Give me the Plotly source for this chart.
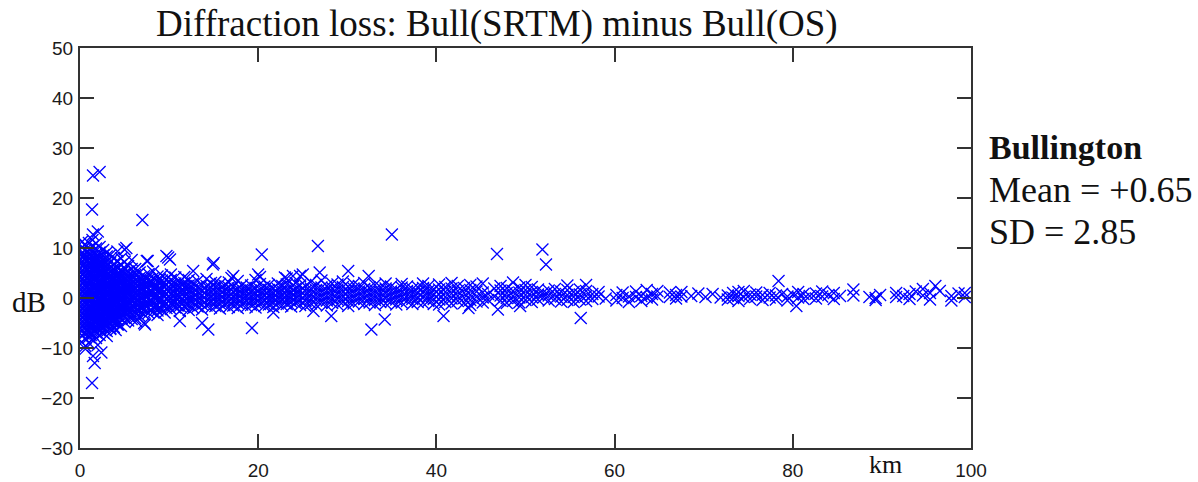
import plotly.graph_objects as go

# ---------------- data ----------------
# Dense region, organised as columns: distance (km) -> list of dB values
band_a_km = [0.2, 0.6, 1.0, 1.4, 1.8, 2.2, 2.6, 3.0]
band_a_db = [
    [-8.8, -7.5, -6.4, -5.6, -4.7, -3.9, -3.0, -2.2, -1.3, -0.5, 0.4, 1.2, 2.1, 3.0, 3.8, 4.7, 5.5, 6.4, 7.3, 8.2, 9.0, 10.1, 11.2],
    [-9.6, -8.1, -7.0, -6.0, -5.1, -4.3, -3.4, -2.6, -1.7, -0.9, 0.0, 0.8, 1.7, 2.5, 3.4, 4.3, 5.1, 6.0, 6.9, 7.8, 8.6, 9.6, 10.7],
    [-9.0, -7.8, -6.7, -5.8, -4.9, -4.0, -3.2, -2.4, -1.5, -0.6, 0.2, 1.0, 1.9, 2.8, 3.6, 4.5, 5.3, 6.2, 7.1, 8.0, 8.9, 9.8, 11.0],
    [-8.3, -7.2, -6.2, -5.3, -4.4, -3.6, -2.8, -1.9, -1.1, -0.2, 0.6, 1.5, 2.3, 3.2, 4.0, 4.9, 5.8, 6.6, 7.5, 8.4, 9.3, 10.3, 11.6],
    [-8.0, -6.9, -5.9, -5.0, -4.1, -3.3, -2.5, -1.6, -0.8, 0.1, 0.9, 1.7, 2.6, 3.5, 4.3, 5.2, 6.1, 7.0, 7.8, 8.8, 9.9, 10.9],
    [-7.4, -6.5, -5.6, -4.7, -3.9, -3.0, -2.2, -1.4, -0.5, 0.3, 1.1, 2.0, 2.9, 3.7, 4.6, 5.5, 6.4, 7.2, 8.2, 9.1, 10.2],
    [-6.9, -6.0, -5.1, -4.3, -3.5, -2.6, -1.8, -1.0, -0.1, 0.7, 1.6, 2.4, 3.3, 4.1, 5.0, 5.9, 6.7, 7.6, 8.5, 9.6],
    [-6.6, -5.5, -4.6, -3.8, -3.0, -2.2, -1.3, -0.5, 0.4, 1.2, 2.1, 2.9, 3.8, 4.6, 5.4, 6.3, 7.2, 8.3, 9.1],
]
band_a2_km = [0.4, 0.8, 1.2, 1.6, 2.0, 2.4, 2.8]
band_a2_db = [
    [-7.1, -5.2, -3.5, -1.8, -0.1, 1.6, 3.3, 5.0, 6.7, 8.5],
    [-6.6, -4.8, -3.0, -1.3, 0.4, 2.1, 3.9, 5.6, 7.4, 9.2],
    [-7.4, -5.5, -3.8, -2.0, -0.3, 1.4, 3.1, 4.8, 6.5, 8.3],
    [-6.3, -4.5, -2.7, -1.0, 0.7, 2.4, 4.1, 5.9, 7.7],
    [-5.9, -4.1, -2.4, -0.6, 1.1, 2.8, 4.5, 6.2, 8.0],
    [-5.6, -3.8, -2.1, -0.4, 1.3, 3.0, 4.8, 6.6],
    [-5.0, -3.3, -1.6, 0.1, 1.8, 3.5, 5.2, 7.0],
]

band_b_km = [3.4, 3.8, 4.2, 4.6, 5.0, 5.4, 5.8]
band_b_db = [
    [-6.2, -5.1, -4.2, -3.4, -2.5, -1.7, -0.8, 0.0, 0.9, 1.7, 2.6, 3.4, 4.3, 5.2, 6.0, 7.1, 8.6],
    [-5.8, -4.7, -3.8, -3.0, -2.1, -1.3, -0.4, 0.4, 1.3, 2.1, 3.0, 3.9, 4.8, 5.7, 6.8, 8.0],
    [-5.3, -4.4, -3.5, -2.7, -1.8, -0.9, -0.1, 0.7, 1.6, 2.4, 3.3, 4.2, 5.0, 6.1, 7.4, 9.3],
    [-5.6, -4.1, -3.2, -2.3, -1.5, -0.6, 0.2, 1.1, 1.9, 2.8, 3.6, 4.5, 5.5, 6.6, 7.9],
    [-4.8, -3.8, -2.9, -2.0, -1.2, -0.3, 0.5, 1.4, 2.2, 3.1, 4.0, 4.9, 5.9, 7.2],
    [-4.5, -3.5, -2.6, -1.7, -0.9, 0.0, 0.8, 1.7, 2.5, 3.4, 4.3, 5.3, 6.4],
    [-4.2, -3.2, -2.3, -1.5, -0.6, 0.3, 1.1, 2.0, 2.8, 3.7, 4.6, 5.8, 7.6],
]
band_b2_km = [3.6, 4.0, 4.4, 4.8, 5.2, 5.6]
band_b2_db = [
    [-4.6, -2.9, -1.2, 0.5, 2.2, 3.9, 5.6],
    [-4.1, -2.4, -0.7, 1.0, 2.7, 4.4],
    [-3.7, -2.0, -0.3, 1.4, 3.1, 4.8],
    [-3.3, -1.6, 0.1, 1.8, 3.5, 5.2],
    [-2.9, -1.2, 0.5, 2.2, 3.9],
    [-2.6, -0.9, 0.8, 2.5, 4.1],
]

band_c_km = [6.2, 6.7, 7.2, 7.7, 8.2, 8.7, 9.2, 9.7, 10.2, 10.7, 11.2, 11.7, 12.2]
band_c_db = [
    [-4.0, -3.0, -2.0, -1.1, -0.1, 0.8, 1.8, 2.7, 3.6, 4.6, 5.8],
    [-3.6, -2.6, -1.7, -0.7, 0.2, 1.2, 2.1, 3.1, 4.0, 5.1],
    [-3.3, -2.3, -1.3, -0.4, 0.6, 1.5, 2.5, 3.4, 4.4],
    [-3.0, -2.0, -1.0, -0.1, 0.9, 1.8, 2.8, 3.7, 4.8],
    [-2.8, -1.8, -0.8, 0.2, 1.1, 2.1, 3.0, 4.0, 5.3],
    [-3.4, -2.5, -1.5, -0.5, 0.4, 1.4, 2.3, 3.3, 4.3],
    [-2.3, -1.3, -0.3, 0.7, 1.6, 2.6, 3.5, 4.5],
    [-2.0, -1.1, -0.1, 0.9, 1.8, 2.7, 3.7],
    [-2.2, -1.2, -0.2, 0.7, 1.7, 2.6, 3.6, 4.7],
    [-1.9, -0.9, 0.1, 1.0, 2.0, 2.9, 4.1],
    [-2.6, -1.6, -0.6, 0.4, 1.3, 2.3, 3.3],
    [-1.8, -0.8, 0.2, 1.1, 2.1, 3.0, 4.2],
    [-2.4, -1.4, -0.4, 0.5, 1.5, 2.5, 3.6],
]
band_c2_km = [6.45, 6.95, 7.45, 7.95, 8.45, 8.95, 9.45, 9.95, 10.45, 10.95, 11.45, 11.95]
band_c2_db = [
    [-2.4, -0.6, 1.3, 3.2], [-2.1, -0.2, 1.6, 3.5], [-1.8, 0.1, 2.0, 3.8],
    [-2.5, -0.5, 1.4, 3.3], [-1.6, 0.3, 2.2], [-1.9, 0.0, 1.9, 3.7],
    [-1.4, 0.5, 2.4], [-1.7, 0.2, 2.1], [-1.2, 0.6, 2.5],
    [-1.5, 0.4, 2.3], [-1.1, 0.8, 2.6], [-1.3, 0.6, 2.4],
]

band_d_km = [12.7, 13.2, 13.7, 14.2, 14.7, 15.2, 15.7, 16.2, 16.7, 17.2, 17.7, 18.2, 18.7,
             19.2, 19.7, 20.2, 20.7, 21.2, 21.7, 22.2, 22.7, 23.2, 23.7, 24.2, 24.7]
band_d_db = [
    [-2.0, -1.0, 0.0, 0.9, 1.9, 2.9], [-1.7, -0.7, 0.3, 1.2, 2.2, 3.4],
    [-2.3, -1.3, -0.3, 0.6, 1.6, 2.6], [-1.5, -0.5, 0.5, 1.4, 2.4, 3.8],
    [-1.9, -0.9, 0.1, 1.0, 2.0, 3.0], [-1.6, -0.6, 0.4, 1.3, 2.3, 3.2],
    [-2.1, -1.1, -0.1, 0.8, 1.8, 2.8], [-1.4, -0.4, 0.6, 1.5, 2.5],
    [-1.8, -0.8, 0.2, 1.1, 2.1, 3.1], [-1.5, -0.5, 0.4, 1.3, 2.3],
    [-2.0, -1.0, 0.0, 1.0, 1.9, 3.4], [-1.3, -0.3, 0.7, 1.6, 2.6],
    [-1.7, -0.7, 0.2, 1.2, 2.1], [-1.4, -0.4, 0.5, 1.5, 2.5],
    [-1.9, -0.9, 0.1, 1.0, 2.0, 3.6], [-1.2, -0.2, 0.8, 1.7, 2.8, 4.2],
    [-1.6, -0.6, 0.4, 1.3, 2.3], [-1.3, -0.3, 0.6, 1.6, 2.6],
    [-1.8, -0.8, 0.2, 1.1, 2.0], [-1.1, -0.1, 0.9, 1.8, 2.9],
    [-1.5, -0.5, 0.4, 1.4, 2.4], [-1.2, -0.2, 0.7, 1.7, 2.7, 3.9],
    [-1.7, -0.7, 0.3, 1.2, 2.2], [-1.0, 0.0, 1.0, 1.9, 3.0],
    [-1.4, -0.4, 0.6, 1.5, 2.5, 4.4],
]

band_e_km = [25.3, 25.9, 26.5, 27.1, 27.7, 28.3, 28.9, 29.5, 30.1, 30.7, 31.3, 31.9, 32.5,
             33.1, 33.7, 34.3, 34.9, 35.5, 36.1, 36.7, 37.3, 37.9, 38.5, 39.1, 39.7]
band_e_db = [
    [-1.6, -0.6, 0.4, 1.4, 2.4], [-1.1, -0.1, 0.9, 1.9, 3.2], [-1.4, -0.4, 0.6, 1.6, 2.6],
    [-0.9, 0.1, 1.1, 2.1, 3.5], [-1.5, -0.5, 0.5, 1.5, 2.4], [-1.0, 0.0, 1.0, 2.0, 2.9],
    [-1.3, -0.3, 0.7, 1.7, 2.7], [-0.8, 0.2, 1.2, 2.2, 3.3], [-1.6, -0.6, 0.4, 1.4, 2.3],
    [-1.1, -0.1, 0.9, 1.9, 2.8], [-0.7, 0.3, 1.3, 2.4], [-1.2, -0.2, 0.8, 1.8, 3.0],
    [-0.9, 0.1, 1.1, 2.1], [-1.4, -0.4, 0.6, 1.6, 2.6], [-0.8, 0.2, 1.2, 2.2],
    [-1.1, -0.1, 0.9, 1.9, 2.9], [-0.7, 0.3, 1.3, 2.3], [-1.3, -0.3, 0.7, 1.7],
    [-0.9, 0.1, 1.1, 2.1, 2.8], [-0.6, 0.4, 1.4, 2.3], [-1.2, -0.2, 0.8, 1.8],
    [-0.8, 0.2, 1.2, 2.2], [-1.0, 0.0, 1.0, 2.0, 2.9], [-0.6, 0.4, 1.4, 2.4],
    [-1.2, -0.2, 0.8, 1.8],
]

band_f_km = [40.3, 41.0, 41.7, 42.4, 43.1, 43.8, 44.5, 45.2, 45.8, 46.5, 47.2, 47.9, 48.6,
             49.3, 50.0, 50.7, 51.4, 52.0, 52.6, 53.3, 54.0, 54.7, 55.4, 56.1, 56.8,
             57.5, 58.2, 59.0]
band_f_db = [
    [-1.3, -0.3, 0.7, 1.7, 2.7], [-0.8, 0.2, 1.2, 2.2], [-1.1, -0.1, 0.9, 1.9, 3.0],
    [-0.6, 0.4, 1.4, 2.4], [-1.0, 0.0, 1.0, 2.0], [-1.4, -0.4, 0.6, 1.6, 2.6],
    [-0.7, 0.3, 1.3, 2.3], [-0.9, 0.1, 1.1, 2.9], [-0.4, 0.8], [0.3, 1.9],
    [-0.5, 0.5, 1.5, 2.4], [-1.0, 0.0, 1.0, 2.0], [-0.6, 0.4, 1.4, 3.1],
    [-0.9, 0.1, 1.1, 2.1], [-0.4, 0.6, 1.6, 2.6], [-0.8, 0.2, 1.2, 2.2],
    [-0.3, 0.7, 1.7], [0.1, 1.1], [-0.5, 0.5, 1.5], [-0.2, 0.8, 1.8],
    [-0.7, 0.3, 1.3], [-0.4, 0.6, 1.6, 2.5], [-0.8, 0.2, 1.2], [-0.3, 0.7, 1.7],
    [-0.6, 0.4, 1.4, 2.6], [-0.2, 0.8], [0.3, 1.2], [-0.1],
]

# Sparse far region: individual points
far_km = [60.2, 60.2, 60.9, 60.9, 61.6, 61.6, 62.4, 62.4, 63.0, 63.0, 63.6, 63.6, 64.2, 64.2,
          64.8, 64.8, 66.2, 66.2, 66.9, 66.9, 67.5, 67.5, 68.6, 69.4, 70.2, 71.0, 71.9,
          72.7, 72.7, 73.3, 73.3, 73.9, 73.9, 73.9, 74.5, 74.5, 75.2, 75.2, 75.9, 75.9,
          76.6, 76.6, 77.4, 77.4, 78.1, 78.1, 78.8, 79.4, 79.4, 80.0, 80.6, 80.6, 81.2,
          81.2, 81.9, 82.6, 82.6, 83.3, 83.3, 84.0, 84.6, 84.6, 85.3, 86.8, 86.8, 88.6,
          89.3, 89.3, 89.8, 91.6, 91.6, 92.4, 93.1, 93.1, 93.8, 94.6, 94.6, 95.4, 95.4,
          96.5, 97.8, 97.8, 98.6, 99.3, 99.3]
far_db = [-0.5, 0.6, 0.0, 1.1, -0.8, 0.3, 0.2, 1.3, -0.6, 0.4, 0.1, 1.6, -0.3, 0.8,
          0.3, 1.4, 0.2, 1.1, -0.1, 0.6, 0.3, 1.2, 0.4, 0.9, 0.2, 0.8, 0.1,
          0.5, -0.3, 0.0, 1.0, -0.6, 0.4, 1.2, 0.2, 1.4, -0.2, 0.7, 0.3, 1.1,
          -0.4, 0.6, 0.1, 1.0, -0.3, 0.5, 0.8, -0.5, 0.3, 0.7, 0.1, 1.2, -0.2,
          0.8, 0.4, 0.9, -0.1, 0.3, 1.3, 0.6, -0.2, 1.0, 0.4, 1.7, 0.5, 0.2,
          0.0, -0.4, 0.6, 1.0, 0.2, 0.4, 0.8, -0.2, 1.3, 0.5, 1.8, -0.3, 1.0,
          1.4, 0.4, -0.5, 0.9, 1.0, 0.2]

# Isolated outliers
outlier_km = [1.46, 2.2, 1.35, 7.0, 1.46, 2.0, 1.35, 1.65, 2.4, 1.46, 0.6, 14.4, 7.3, 6.3,
              5.0, 9.9, 14.9, 7.6, 20.4, 26.7, 35.0, 19.3, 32.7, 34.2, 28.2, 30.1, 32.4,
              17.0, 20.0, 23.0, 25.0, 26.9, 21.7, 26.2, 46.8, 51.9, 52.3, 56.2, 40.8,
              43.6, 46.9, 49.4, 78.4, 80.4, 96.0, 4.0, 3.0, 2.0, 11.2, 9.5, 13.7, 4.3,
              3.4, 15.0, 10.1, 9.7, 5.2, 6.4, 12.7, 17.2, 23.9, 7.5, 7.2]
outlier_db = [24.5, 25.2, 17.7, 15.6, 12.7, 13.3, -17.0, -13.0, -10.9, -11.6, -10.2, -6.3, -5.3, -4.6,
              9.7, 8.1, 6.7, 7.4, 8.7, 10.4, 12.7, -6.0, -6.3, -4.3, -3.6, 5.4, 4.4,
              4.0, 4.7, 4.1, 4.7, 5.1, -2.9, -2.6, 8.8, 9.7, 6.7, -4.0, -3.6,
              -2.0, -2.3, -1.6, 3.4, -1.6, 2.4, -6.4, -7.6, -9.4, -4.6, -2.9, -5.0, -5.3,
              -6.0, 7.0, 7.7, 8.4, 10.0, 5.4, 5.4, 4.4, 4.4, 7.4, -5.0]

x_ticks = [0, 20, 40, 60, 80, 100]
y_ticks = [-30, -20, -10, 0, 10, 20, 30, 40, 50]

title_text = "Diffraction loss: Bull(SRTM) minus Bull(OS)"
stats_lines = ["Bullington", "Mean = +0.65", "SD = 2.85"]

# ---------------- assemble ----------------
xs, ys = [], []
for kms, dbs in [(band_a_km, band_a_db), (band_a2_km, band_a2_db),
                 (band_b_km, band_b_db), (band_b2_km, band_b2_db),
                 (band_c_km, band_c_db), (band_c2_km, band_c2_db),
                 (band_d_km, band_d_db), (band_e_km, band_e_db), (band_f_km, band_f_db)]:
    for k, col in zip(kms, dbs):
        for v in col:
            xs.append(k)
            ys.append(v)
xs += far_km + outlier_km
ys += far_db + outlier_db

W, H = 1198, 482
L, R, T, B = 80, 971, 48, 448

def px(xp):
    return (xp - L) / (R - L)

def py(yp):
    return (B - yp) / (B - T)

fig = go.Figure()
fig.add_trace(go.Scatter(
    x=xs, y=ys, mode="markers",
    marker=dict(symbol="x-thin-open", size=12, color="#0000ff",
                line=dict(width=1.3, color="#0000ff")),
    hoverinfo="skip", showlegend=False,
))

axis_common = dict(
    showline=True, linecolor="#333333", linewidth=2, mirror="ticks",
    ticks="inside", ticklen=14, tickwidth=2, tickcolor="#333333",
    showgrid=False, zeroline=False, automargin=False,
    tickfont=dict(family="Liberation Sans", size=19, color="#1a1a1a"),
)

fig.update_layout(
    width=W, height=H,
    margin=dict(l=L, r=W - R, t=T, b=H - B, pad=0, autoexpand=False),
    paper_bgcolor="white", plot_bgcolor="white",
    xaxis=dict(range=[0, 100], tickvals=x_ticks, ticklabelstandoff=4, **axis_common),
    yaxis=dict(range=[-30, 50], tickvals=y_ticks, ticklabelstandoff=1, **axis_common),
    showlegend=False,
)

serif = "Liberation Serif"
ann = [
    dict(text=title_text, x=px(497), y=py(24), xanchor="center", yanchor="middle",
         font=dict(family=serif, size=37, color="#111111")),
    dict(text="dB", x=px(29), y=py(302), xanchor="center", yanchor="middle",
         font=dict(family=serif, size=29, color="#111111")),
    dict(text="km", x=px(885), y=py(481), xanchor="center", yanchor="bottom",
         font=dict(family=serif, size=26, color="#111111")),
    dict(text="<b>" + stats_lines[0] + "</b>", x=px(987), y=py(147), xanchor="left", yanchor="middle",
         font=dict(family=serif, size=34, color="#111111")),
    dict(text=stats_lines[1], x=px(987), y=py(190), xanchor="left", yanchor="middle",
         font=dict(family=serif, size=36, color="#111111")),
    dict(text=stats_lines[2], x=px(987), y=py(232), xanchor="left", yanchor="middle",
         font=dict(family=serif, size=36, color="#111111")),
]
for a in ann:
    a.update(xref="paper", yref="paper", showarrow=False)
fig.update_layout(annotations=ann)

fig.write_html("out.html")
